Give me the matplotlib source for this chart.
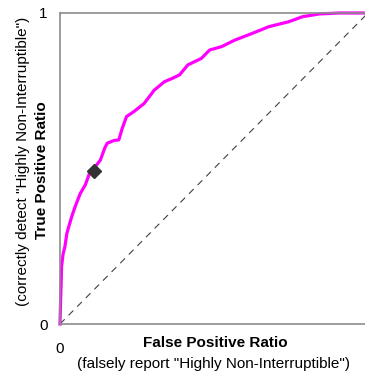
import numpy as np
import matplotlib
matplotlib.use("Agg")
import matplotlib.pyplot as plt

plt.rcParams['font.family'] = ['Liberation Sans', 'DejaVu Sans']

# =========================
# ROC data
# =========================
fpr = [0.0, 0.002, 0.004, 0.005, 0.010, 0.016, 0.022, 0.027, 0.038, 0.049,
       0.058, 0.066, 0.082, 0.096, 0.110, 0.131, 0.145, 0.153, 0.175, 0.191,
       0.202, 0.216, 0.240, 0.273, 0.306, 0.339, 0.365, 0.388, 0.415, 0.459,
       0.486, 0.525, 0.568, 0.623, 0.678, 0.743, 0.787, 0.842, 0.907, 1.0]
tpr = [0.0, 0.077, 0.140, 0.184, 0.225, 0.249, 0.290, 0.308, 0.345, 0.377,
       0.400, 0.420, 0.447, 0.485, 0.500, 0.527, 0.565, 0.581, 0.590, 0.592,
       0.629, 0.667, 0.683, 0.709, 0.752, 0.779, 0.790, 0.801, 0.833, 0.854,
       0.881, 0.892, 0.913, 0.934, 0.956, 0.972, 0.988, 0.997, 1.0, 1.0]

# operating point
op_fpr = 0.110
op_tpr = 0.493

# =========================
# Plot
# =========================
fig = plt.figure(figsize=(3.65, 3.75), dpi=100)
ax = fig.add_axes([60 / 365, 51 / 375, 308 / 365, 311 / 375])

ax.plot([0, 1], [0, 1], linestyle=(0, (6, 5)), color="#404040", linewidth=0.8)
ax.plot(fpr, tpr, color="#FF00FF", linewidth=2.3, clip_on=False)
ax.plot([op_fpr], [op_tpr], marker="D", color="#333333", markersize=7,
        linestyle="none", zorder=5)

ax.set_xlim(0, 1)
ax.set_ylim(0, 1)
ax.set_xticks([0, 1])
ax.set_yticks([0, 1])
ax.set_xticklabels(["0", "1"])
ax.set_yticklabels(["0", "1"])
ax.tick_params(length=0, labelsize=11)
ax.tick_params(axis="x", pad=13)
ax.tick_params(axis="y", pad=9)

for side in ["left", "top", "bottom"]:
    ax.spines[side].set_color("#8c8c8c")
    ax.spines[side].set_linewidth(1.2)
ax.spines["right"].set_visible(False)

ax.text(0.503, -0.061, "False Positive Ratio", transform=ax.transAxes,
        ha="center", va="center", fontsize=11, fontweight="bold")
ax.text(0.50, -0.129, '(falsely report "Highly Non-Interruptible")',
        transform=ax.transAxes, ha="center", va="center", fontsize=11)
ax.text(-0.057, 0.495, "True Positive Ratio", transform=ax.transAxes,
        ha="center", va="center", fontsize=11, fontweight="bold", rotation=90)
ax.text(-0.121, 0.524, '(correctly detect "Highly Non-Interruptible")',
        transform=ax.transAxes, ha="center", va="center", fontsize=11,
        rotation=90)

fig.savefig("out.png", dpi=100)
